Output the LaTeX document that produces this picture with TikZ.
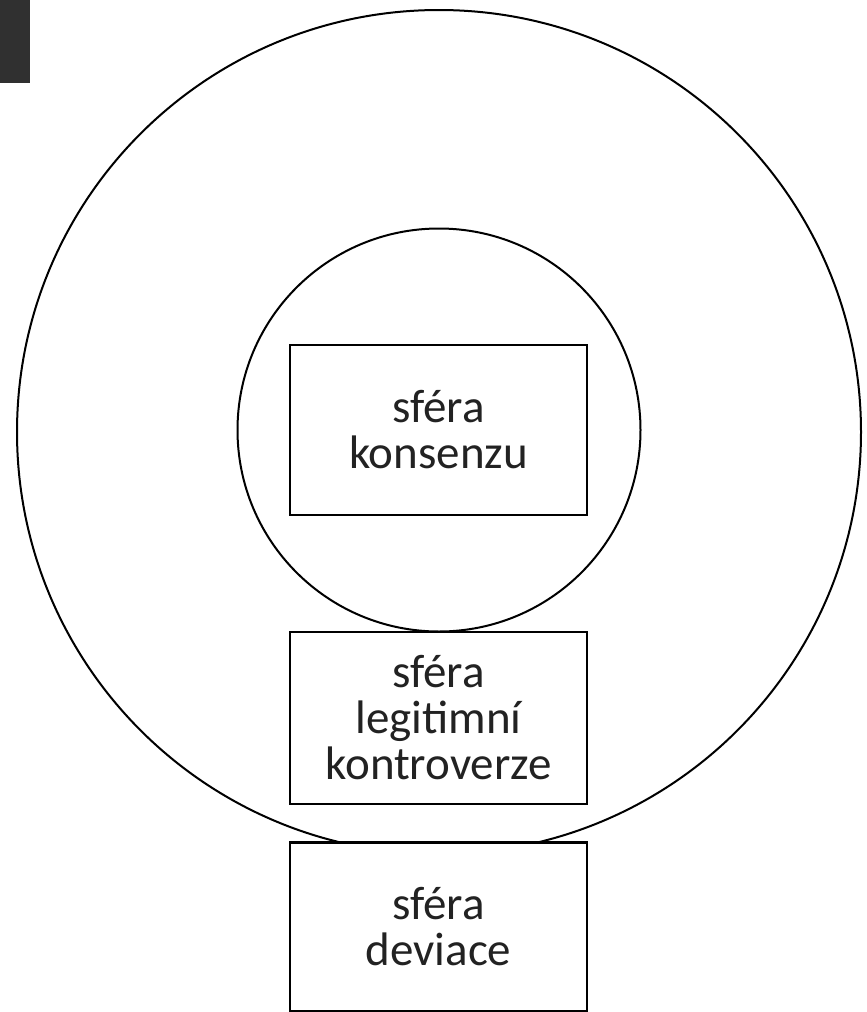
\documentclass[tikz,border=0pt]{standalone}
\usepackage{fontspec}
\setmainfont{Carlito}
\usetikzlibrary{positioning}
\definecolor{tmava}{HTML}{303030}
\definecolor{pismo}{HTML}{222222}
\tikzset{
    %Define standard box for a sphere
    sfera/.style={
      rectangle,
      draw=black, line width=2.3pt,
      fill=white,
      minimum width=297pt,
      minimum height=170pt,
      text=pismo,
      align=center,
      font=\fontsize{47}{46}\selectfont},
    kruh/.style={
      circle,
      draw=black, line width=2pt,
      inner sep=0pt},
}
\begin{document}
\begin{tikzpicture}[x=1pt,y=-1pt]
    \useasboundingbox (0,0) rectangle (867,1012);
    \fill[tmava] (0,0) rectangle (30,83);
    \node (vnejsi) [kruh,minimum size=844pt] at (439,432) {};
    \node (vnitrni) [kruh,minimum size=403pt] at (439,430) {};
    \node (konsenzus) [sfera] at (438.5,430)
          {sféra\\konsenzu};
    \node (kontroverze) [sfera,minimum height=172pt] [below=114.5pt of konsenzus]
          {sféra\\legitimní\\kontroverze};
    \node (deviace) [sfera,minimum height=168.5pt] [below=36.5pt of kontroverze]
          {sféra\\deviace};
\end{tikzpicture}
\end{document}
